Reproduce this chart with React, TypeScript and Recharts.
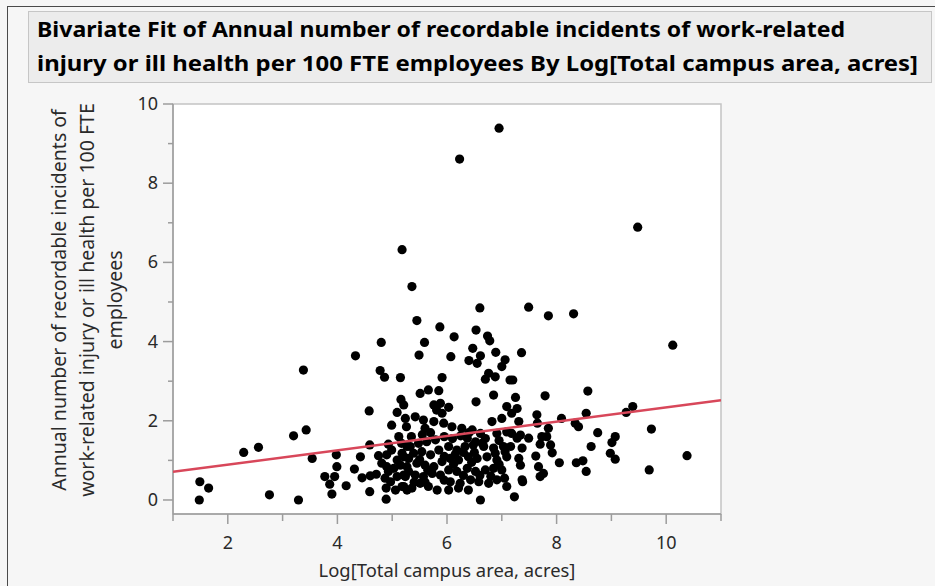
import { ScatterChart, Scatter, XAxis, YAxis, ReferenceArea } from 'recharts'

// [log campus area, incidents per 100 FTE]
const points: [number, number][] = [
  [1.49, 0.46], [1.48, 0.0], [1.65, 0.3], [2.29, 1.2], [2.56, 1.33], [2.76, 0.13],
  [3.2, 1.62], [3.43, 1.77], [3.38, 3.28], [3.29, 0.0], [3.54, 1.05], [3.77, 0.59],
  [3.86, 0.4], [3.95, 0.59], [3.98, 1.14], [3.99, 0.84], [3.9, 0.15], [4.16, 0.36],
  [4.33, 3.64], [4.31, 0.78], [4.42, 1.09], [4.45, 0.56], [4.58, 2.25], [4.59, 1.39],
  [4.59, 0.21], [4.6, 0.61], [4.71, 0.65], [4.75, 1.12], [4.8, 3.98], [4.78, 3.27],
  [4.86, 3.1], [4.89, 0.02], [4.89, 0.3], [4.99, 1.89], [4.9, 0.84],
  [5.15, 3.09], [5.16, 2.54], [5.21, 2.4], [5.09, 2.21], [5.24, 2.06], [5.26, 1.85],
  [4.93, 1.41], [4.81, 0.93], [4.9, 1.14], [4.99, 1.26], [5.09, 1.01], [5.18, 1.18],
  [5.27, 1.35], [4.93, 0.72], [5.03, 0.8], [5.15, 0.88], [4.87, 0.55], [4.97, 0.46],
  [5.09, 0.59], [5.21, 0.63], [5.3, 0.72], [5.06, 0.25], [5.18, 0.34], [5.27, 0.25],
  [6.95, 9.39], [6.23, 8.61], [9.48, 6.89], [5.18, 6.32], [5.36, 5.39], [5.45, 4.53],
  [6.6, 4.85], [7.49, 4.87], [7.85, 4.65], [8.31, 4.7], [5.87, 4.37], [6.53, 4.29],
  [6.13, 4.12], [6.74, 4.14], [5.59, 3.98], [6.78, 4.02],
  [6.47, 3.83], [6.89, 3.73], [5.49, 3.66], [6.07, 3.62], [6.61, 3.64], [6.4, 3.52],
  [6.55, 3.45], [7.06, 3.54], [7.0, 3.37], [5.91, 3.09], [6.76, 3.2], [6.7, 3.05],
  [6.88, 3.11], [7.15, 3.03], [5.51, 2.69], [5.66, 2.78], [5.85, 2.76], [6.53, 2.48],
  [6.85, 2.65], [5.76, 2.4], [5.88, 2.44], [5.81, 2.27], [6.03, 2.34], [5.91, 2.19],
  [7.09, 2.36], [5.42, 2.1], [5.57, 2.02], [5.6, 1.81], [5.76, 1.98], [5.94, 1.94],
  [6.09, 1.85], [6.27, 1.81], [6.82, 1.98], [7.0, 2.06], [6.91, 1.68], [7.09, 1.72],
  [6.46, 1.77], [6.61, 1.68], [6.37, 1.56], [6.52, 1.47], [6.64, 1.43],
  [5.17, 1.43], [5.33, 1.35], [5.48, 1.43], [5.63, 1.47], [5.79, 1.52], [5.21, 1.09],
  [5.39, 1.18], [5.54, 1.22], [5.7, 1.14], [5.85, 1.26], [5.27, 0.84], [5.45, 0.93],
  [5.6, 0.88], [5.76, 0.84], [5.91, 0.97], [5.24, 0.59], [5.42, 0.63], [5.57, 0.59],
  [5.73, 0.67], [5.88, 0.63], [5.21, 0.34], [5.36, 0.3], [5.51, 0.42], [5.66, 0.34],
  [5.82, 0.25],
  [6.03, 1.35], [6.18, 1.26], [6.33, 1.35], [6.48, 1.39], [6.67, 1.35], [6.85, 1.31],
  [7.03, 1.35], [6.06, 1.05], [6.21, 1.01], [6.39, 1.09], [6.55, 1.05], [6.73, 1.09],
  [6.91, 1.01], [7.09, 1.09], [6.03, 0.76], [6.18, 0.72], [6.37, 0.8], [6.52, 0.72],
  [6.7, 0.76], [6.85, 0.8], [7.0, 0.76], [6.06, 0.46], [6.24, 0.42], [6.43, 0.51],
  [6.58, 0.46], [6.76, 0.42], [6.91, 0.51], [6.03, 0.25], [6.21, 0.3], [6.39, 0.25],
  [6.61, 0.0], [7.09, 0.34],
  [5.35, 1.6], [5.55, 1.65], [5.7, 1.7], [5.95, 1.6], [6.1, 1.55], [6.25, 1.62],
  [5.12, 1.6], [5.3, 1.05], [5.5, 1.02], [5.65, 0.75], [5.95, 0.5], [6.12, 0.9],
  [6.3, 0.62], [6.45, 0.95], [6.6, 0.62], [6.8, 0.6], [6.95, 0.9], [7.05, 0.55],
  [6.15, 1.15], [6.5, 1.2], [6.88, 1.18], [5.6, 0.45], [5.4, 0.45], [6.3, 1.2],
  [6.7, 1.55], [6.95, 1.5], [5.95, 1.1], [6.4, 1.7],
  [7.36, 3.72], [7.2, 3.03], [8.57, 2.75], [7.25, 2.59], [7.79, 2.63], [7.28, 2.31],
  [7.18, 2.19], [7.64, 2.15], [8.09, 2.06], [8.54, 2.19], [7.31, 1.98], [7.65, 1.94],
  [7.85, 1.81], [8.34, 1.94], [8.4, 1.85], [8.75, 1.7], [7.18, 1.68], [7.34, 1.64],
  [7.49, 1.56], [7.73, 1.6], [7.82, 1.6], [7.16, 1.35], [7.37, 1.31], [7.7, 1.41],
  [7.89, 1.39], [8.63, 1.35], [7.06, 1.22], [7.92, 1.19], [7.62, 1.11], [7.31, 1.05],
  [7.34, 0.88], [8.05, 0.94], [8.36, 0.94], [8.48, 0.99], [7.67, 0.84], [7.76, 0.67],
  [7.7, 0.59], [8.54, 0.72], [7.37, 0.51], [7.38, 0.46], [7.23, 0.08], [7.28, 1.56],
  [10.12, 3.91], [9.39, 2.36], [9.27, 2.21], [9.73, 1.79], [9.07, 1.6], [9.01, 1.45],
  [8.98, 1.18], [9.07, 1.03], [10.38, 1.12], [9.69, 0.76],
]

// linear fit end points
const fitX = [1, 11]
const fitY = [0.71, 2.52]

const xTicks = [1, 2, 3, 4, 5, 6, 7, 8, 9, 10, 11]
const yTicks = [0, 1, 2, 3, 4, 5, 6, 7, 8, 9, 10]

const titleLines = [
  'Bivariate Fit of Annual number of recordable incidents of work-related',
  'injury or ill health per 100 FTE employees By Log[Total campus area, acres]',
]
const titleWidths = [808, 881]
const yLabelLines = [
  'Annual number of recordable incidents of',
  'work-related injury or ill health per 100 FTE',
  'employees',
]
const xLabel = 'Log[Total campus area, acres]'

const scatterData = points.map(([x, y]) => ({ x, y }))
const fitData = fitX.map((x, i) => ({ x, y: fitY[i] }))

const FONT = '"Noto Sans", "Open Sans", sans-serif'
const AXIS_GRAY = '#9c9c9c'
const TEXT = '#2a2a2a'

const XTick = ({ x, y, payload }: any) => {
  const major = payload.value % 2 === 0
  return (
    <g>
      <line x1={x} y1={y} x2={x} y2={y + (major ? 10 : 7)} stroke={AXIS_GRAY} strokeWidth={1.5} />
      {major && (
        <text x={x} y={y + 35} textAnchor="middle" fontSize={18} fontFamily={FONT} fill={TEXT}>
          {payload.value}
        </text>
      )}
    </g>
  )
}

const YTick = ({ x, y, payload }: any) => {
  const major = payload.value % 2 === 0
  return (
    <g>
      <line x1={x - (major ? 10 : 5)} y1={y} x2={x} y2={y} stroke={AXIS_GRAY} strokeWidth={1.5} />
      {major && (
        <text x={x - 15} y={y + 6} textAnchor="end" fontSize={18} fontFamily={FONT} fill={TEXT}>
          {payload.value}
        </text>
      )}
    </g>
  )
}

const YLabel = () => (
  <text
    transform="translate(66, 300) rotate(-90)"
    textAnchor="middle"
    fontSize={19.5}
    fontFamily={FONT}
    fill={TEXT}
  >
    {yLabelLines.map((line, i) => (
      <tspan key={i} x={0} dy={i === 0 ? 0 : 28}>
        {line}
      </tspan>
    ))}
  </text>
)

const Dot = (p: any) => <circle cx={p.cx} cy={p.cy} r={4.6} fill="#000" />
const NoDot = () => <g />

export default function App() {
  return (
    <div
      style={{
        position: 'absolute',
        left: 0,
        top: 0,
        width: 935,
        height: 586,
        background: '#f6f6f6',
        overflow: 'hidden',
      }}
    >
      <svg width={935} height={586} style={{ position: 'absolute', left: 0, top: 0 }}>
        <line x1={7.5} y1={6} x2={7.5} y2={586} stroke="#4a4a4a" />
        <line x1={7} y1={6.5} x2={935} y2={6.5} stroke="#4a4a4a" />
        <rect x={28.5} y={11.5} width={903} height={71} fill="#ececec" stroke="#c6c6c6" />
        {titleLines.map((line, i) => (
          <text
            key={i}
            x={37}
            y={37 + i * 34}
            fontSize={21}
            fontWeight="bold"
            fontFamily={FONT}
            fill="#000"
            textLength={titleWidths[i]}
            lengthAdjust="spacingAndGlyphs"
          >
            {line}
          </text>
        ))}
      </svg>
      <div style={{ position: 'absolute', left: 0, top: 0 }}>
        <ScatterChart
          width={935}
          height={586}
          margin={{ top: 104, right: 214, bottom: 0, left: 0 }}
        >
          <ReferenceArea
            x1={1}
            x2={11}
            y1={-0.354}
            y2={10}
            fill="#ffffff"
            fillOpacity={1}
            stroke="#c4c4c4"
            strokeWidth={1.5}
          />
          <XAxis
            type="number"
            dataKey="x"
            domain={[1, 11]}
            ticks={xTicks}
            interval={0}
            allowDataOverflow
            height={72}
            tickSize={0}
            tickMargin={0}
            tickLine={false}
            axisLine={{ stroke: AXIS_GRAY, strokeWidth: 1.5 }}
            tick={<XTick />}
            label={{
              value: xLabel,
              position: 'insideBottom',
              offset: 9,
              fontSize: 18.4,
              fontFamily: FONT,
              fill: TEXT,
            }}
          />
          <YAxis
            type="number"
            dataKey="y"
            domain={[-0.354, 10]}
            ticks={yTicks}
            interval={0}
            allowDataOverflow
            width={173}
            tickSize={0}
            tickMargin={0}
            tickLine={false}
            axisLine={{ stroke: AXIS_GRAY, strokeWidth: 1.5 }}
            tick={<YTick />}
            label={<YLabel />}
          />
          <Scatter data={scatterData} shape={<Dot />} isAnimationActive={false} />
          <Scatter
            data={fitData}
            line={{ stroke: '#d8475a', strokeWidth: 2.5 }}
            shape={<NoDot />}
            isAnimationActive={false}
          />
        </ScatterChart>
      </div>
    </div>
  )
}
